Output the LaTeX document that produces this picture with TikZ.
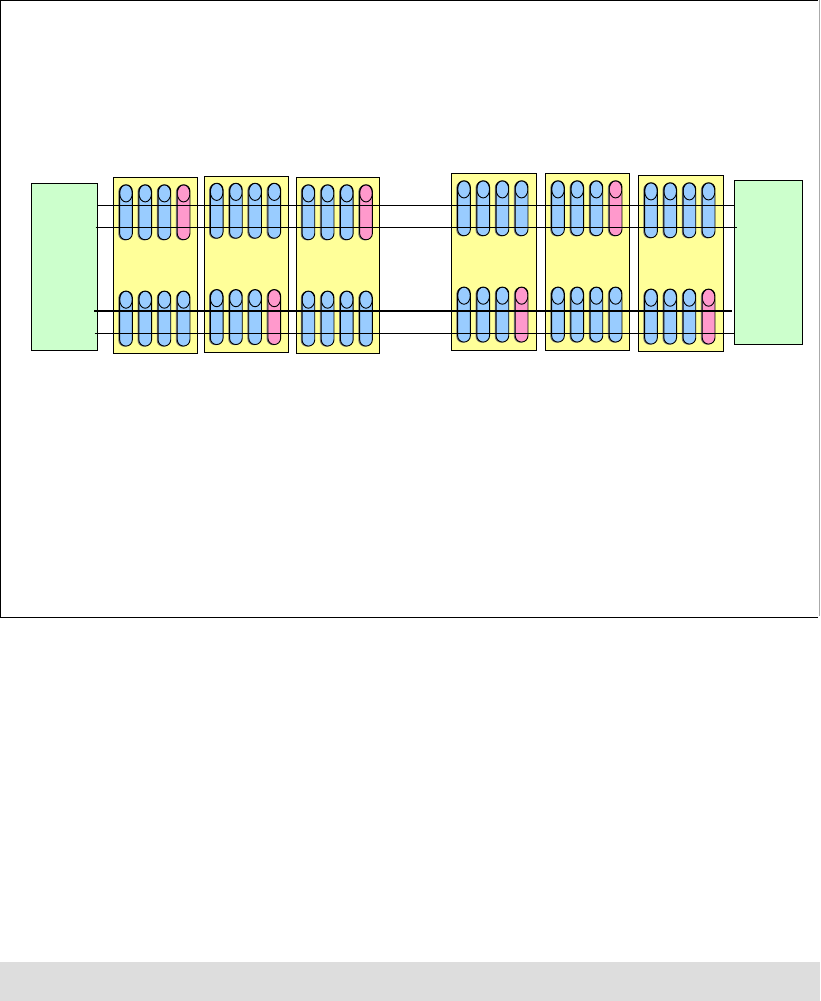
\documentclass[tikz,border=0pt]{standalone}
\usetikzlibrary{calc,shadows}
\definecolor{cblue}{HTML}{99CCFF}
\definecolor{cpink}{HTML}{FF99CC}
\definecolor{cyellow}{HTML}{FFFF99}
\definecolor{cgreen}{HTML}{CCFFCC}
\definecolor{cgrey}{HTML}{DDDDDD}
\definecolor{cedge}{HTML}{AAAAAA}
\begin{document}
\begin{tikzpicture}[x=1pt,y=-1pt,
  ybox/.style={draw, fill=cyellow, line width=1pt, inner sep=0pt, anchor=north west},
  gbox/.style={draw, fill=cgreen, line width=1pt, inner sep=0pt, anchor=north west},
  cyl/.style={draw, line width=0.9pt, fill=cblue, rounded corners=6.3pt,
    minimum width=12.7pt, minimum height=55pt, inner sep=0pt, anchor=north,
    general shadow={shadow xshift=-1.3pt, shadow yshift=-0.6pt, fill=black!55},
    path picture={\draw[line width=0.9pt] ([yshift=-8.6pt]path picture bounding box.north) ellipse [x radius=6.35pt, y radius=8.6pt];}},
  wire/.style={draw, line width=1pt},
  thickwire/.style={draw, line width=2.2pt}]
\useasboundingbox (0,0) rectangle (821,1001);
% frame
\draw[line width=1pt] (818,0.5) -- (0.5,0.5) -- (0.5,617) -- (818,617);
\draw[cedge, line width=1pt] (819.5,0) -- (819.5,616);
% grey bar
\fill[cgrey] (0,962) rectangle (820,1001);
% green end boxes
\node[gbox, minimum width=66.8pt, minimum height=167pt] (L) at (30.5,183.3) {};
\node[gbox, minimum width=67.4pt, minimum height=164pt] (R) at (734.3,180.3) {};
% yellow boxes with cylinders
\foreach \n/\x/\y/\w/\h/\ct/\cb in {
  1/113.3/177.3/84/176/cpink/cblue,
  2/204/175.8/84/176.3/cblue/cpink,
  3/295.7/177.3/83.6/176/cpink/cblue,
  4/451.3/173.3/84.4/177/cblue/cpink,
  5/545.3/173.3/84/177/cpink/cblue,
  6/638.3/175.3/84.4/176/cblue/cpink} {
  \node[ybox, minimum width=\w pt, minimum height=\h pt] (y\n) at (\x,\y) {};
  \foreach \i in {0,1,2} {
    \node[cyl] (c\n t\i) at ($(y\n.north west)+(12.7+19.2*\i,7)$) {};
    \node[cyl] (c\n b\i) at ($(y\n.north west)+(12.7+19.2*\i,113.3)$) {};
  }
  \node[cyl, fill=\ct] (c\n t3) at ($(y\n.north west)+(70.3,7)$) {};
  \node[cyl, fill=\cb] (c\n b3) at ($(y\n.north west)+(70.3,113.3)$) {};
}
% wires
\coordinate (a1) at (97.3,205.3);  \coordinate (b1) at (734.3,205.3);
\coordinate (a2) at (95.7,227.5);  \coordinate (b2) at (736.7,227.5);
\coordinate (a3) at (94,311);      \coordinate (b3) at (731.7,311);
\coordinate (a4) at (94.5,333.5);  \coordinate (b4) at (734.3,333.5);
\draw[wire] (a1) -- (b1);
\draw[wire] (a2) -- (b2);
\draw[thickwire] (a3) -- (b3);
\draw[wire] (a4) -- (b4);
\end{tikzpicture}
\end{document}
